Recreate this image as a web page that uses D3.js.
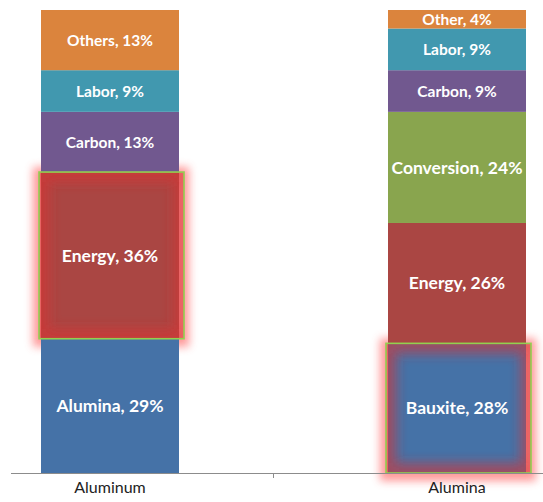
<!DOCTYPE html>
<html>
<head>
<meta charset="utf-8">
<script src="https://cdn.jsdelivr.net/npm/d3@7"></script>
<style>
  body { margin: 0; background: #fff; }
  svg { display: block; }
</style>
</head>
<body>
<div id="chart"></div>
<script>
// chart data
var categories = ["Aluminum", "Alumina"];
var aluminumParts = ["Alumina", "Energy", "Carbon", "Labor", "Others"];
var aluminumValues = [29, 36, 13, 9, 13];
var aluminaParts = ["Bauxite", "Energy", "Conversion", "Carbon", "Labor", "Other"];
var aluminaValues = [28, 26, 24, 9, 9, 4];
var highlightedParts = ["Energy", "Bauxite"];

var svgWidth = 543;
var svgHeight = 502;
var baseY = 473;
var topY = 10;
var barWidth = 138;

var svg = d3.select("#chart")
    .append("svg")
    .attr("width", svgWidth)
    .attr("height", svgHeight);

var defs = svg.append("defs");
defs.append("filter").attr("id", "outerGlow")
    .attr("x", "-50%").attr("y", "-50%").attr("width", "200%").attr("height", "200%")
    .append("feGaussianBlur").attr("stdDeviation", 4.5);
defs.append("filter").attr("id", "innerGlow")
    .attr("x", "-50%").attr("y", "-50%").attr("width", "200%").attr("height", "200%")
    .append("feGaussianBlur").attr("stdDeviation", 6);

// build segments per category
var series = [
    { cat: categories[0], parts: aluminumParts, values: aluminumValues, hi: highlightedParts[0] },
    { cat: categories[1], parts: aluminaParts, values: aluminaValues, hi: highlightedParts[1] }
];
var segments = [];
series.forEach(function (s) {
    var acc = 0;
    s.parts.forEach(function (p, i) {
        segments.push({ cat: s.cat, part: p, value: s.values[i], y0: acc, y1: acc + s.values[i], hi: p === s.hi });
        acc += s.values[i];
    });
});

var xScale = d3.scalePoint()
    .domain(categories)
    .range([110, 457]);
var yScale = d3.scaleLinear()
    .domain([0, 100])
    .range([baseY, topY]);

var color = d3.scaleOrdinal()
    .domain(["Alumina", "Bauxite", "Energy", "Conversion", "Carbon", "Labor", "Others", "Other"])
    .range(["#4572A7", "#4572A7", "#AA4643", "#89A54E", "#71588F", "#4198AF", "#DB843D", "#DB843D"]);

var hiSegs = segments.filter(d => d.hi);

// outer glow behind the bars
svg.append("g")
    .selectAll("rect")
    .data(hiSegs)
    .enter()
    .append("rect")
    .attr("x", d => xScale(d.cat) - barWidth / 2 - 8)
    .attr("y", d => yScale(d.y1) - 5)
    .attr("width", barWidth + 18)
    .attr("height", d => yScale(d.y0) - yScale(d.y1) + 13)
    .attr("fill", "#ff8080")
    .attr("opacity", 0.8)
    .attr("filter", "url(#outerGlow)");

// stacked segments
svg.append("g")
    .selectAll("rect")
    .data(segments)
    .enter()
    .append("rect")
    .attr("x", d => xScale(d.cat) - barWidth / 2)
    .attr("y", d => yScale(d.y1))
    .attr("width", barWidth)
    .attr("height", d => yScale(d.y0) - yScale(d.y1))
    .attr("fill", d => color(d.part));

// inner glow + green outline for highlighted segments
hiSegs.forEach(function (d, i) {
    var x = xScale(d.cat) - barWidth / 2 - 2;
    var y = yScale(d.y1);
    var w = barWidth + 7;
    var h = yScale(d.y0) - yScale(d.y1);
    var clip = defs.append("clipPath").attr("id", "clip" + i);
    clip.append("rect").attr("x", x).attr("y", y).attr("width", w).attr("height", h);
    svg.append("rect")
        .attr("x", x).attr("y", y).attr("width", w).attr("height", h)
        .attr("fill", "none")
        .attr("stroke", "#d83232")
        .attr("stroke-opacity", 0.6)
        .attr("stroke-width", 20)
        .attr("clip-path", "url(#clip" + i + ")")
        .attr("filter", "url(#innerGlow)");
    svg.append("rect")
        .attr("x", x).attr("y", y).attr("width", w).attr("height", h)
        .attr("fill", "none")
        .attr("stroke", "#92D050")
        .attr("stroke-width", 1.6);
});

// segment labels
svg.append("g")
    .selectAll("text")
    .data(segments)
    .enter()
    .append("text")
    .attr("x", d => xScale(d.cat))
    .attr("y", d => (yScale(d.y0) + yScale(d.y1)) / 2)
    .attr("dy", "0.36em")
    .attr("text-anchor", "middle")
    .style("font-family", "Lato, 'Open Sans', sans-serif")
    .style("font-weight", "bold")
    .style("font-size", d => d.value >= 20 ? "17.5px" : "15.5px")
    .style("fill", "#fff")
    .text(d => d.part + ", " + d.value + "%");

// category axis
var axisG = svg.append("g");
axisG.append("line")
    .attr("x1", 11).attr("x2", svgWidth)
    .attr("y1", baseY + 0.5).attr("y2", baseY + 0.5)
    .attr("stroke", "#8c8c8c");
var mid = (xScale(categories[0]) + xScale(categories[1])) / 2 - 10;
axisG.append("line")
    .attr("x1", mid).attr("x2", mid)
    .attr("y1", baseY).attr("y2", baseY + 5)
    .attr("stroke", "#8c8c8c");
axisG.selectAll("text")
    .data(categories)
    .enter()
    .append("text")
    .attr("x", d => xScale(d))
    .attr("y", baseY + 20)
    .attr("text-anchor", "middle")
    .style("font-family", "Lato, 'Open Sans', sans-serif")
    .style("font-size", "16px")
    .style("fill", "#222")
    .text(d => d);
</script>
</body>
</html>
